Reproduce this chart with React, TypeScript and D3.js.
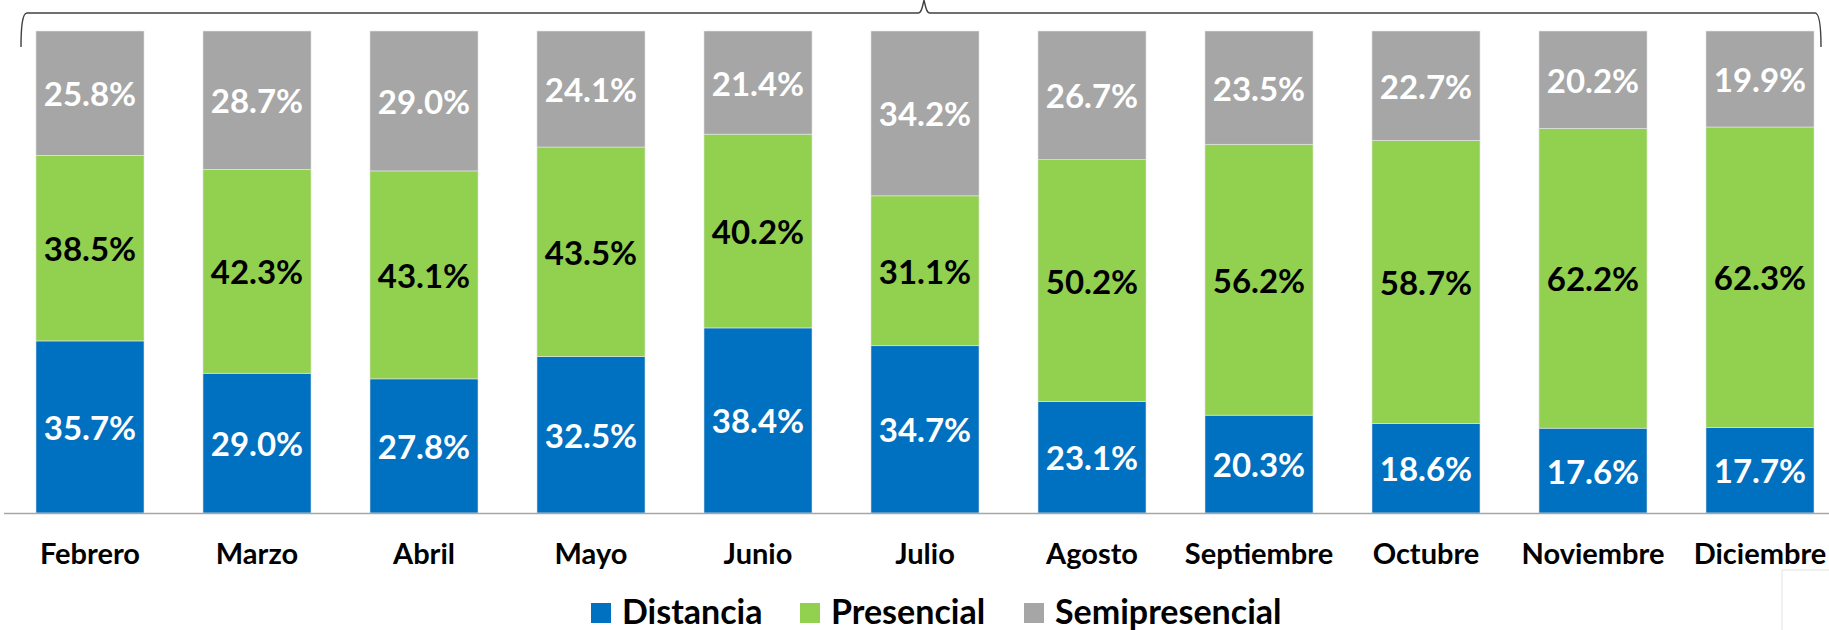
import React from "react";
import * as d3 from "d3";

const months = ["Febrero", "Marzo", "Abril", "Mayo", "Junio", "Julio", "Agosto", "Septiembre", "Octubre", "Noviembre", "Diciembre"];
const distancia = [35.7, 29.0, 27.8, 32.5, 38.4, 34.7, 23.1, 20.3, 18.6, 17.6, 17.7];
const presencial = [38.5, 42.3, 43.1, 43.5, 40.2, 31.1, 50.2, 56.2, 58.7, 62.2, 62.3];
const semipresencial = [25.8, 28.7, 29.0, 24.1, 21.4, 34.2, 26.7, 23.5, 22.7, 20.2, 19.9];
const seriesNames = ["Distancia", "Presencial", "Semipresencial"];
const seriesColors = ["#0070C0", "#92D050", "#A6A6A6"];
const labelColors = ["#FFFFFF", "#000000", "#FFFFFF"];

const W = 1829;
const H = 630;
const FONT = "Lato, 'Open Sans', sans-serif";

export default function App() {
  const rows = months.map((m, i) => ({
    month: m,
    Distancia: distancia[i],
    Presencial: presencial[i],
    Semipresencial: semipresencial[i],
  }));
  const stack = d3.stack<any>().keys(seriesNames).offset(d3.stackOffsetExpand);
  const series = stack(rows);

  const x = d3.scaleBand<string>().domain(months).range([6.5, 1843.5]).paddingInner(0.353).paddingOuter(0.1765);
  const y = d3.scaleLinear().domain([0, 1]).range([513, 31]);
  const bw = x.bandwidth();

  const legendX = [591, 800, 1024];

  const bracePath = "M21,47 C21,30 22,13 27,13 L918,13 C921,13 922,9 924,0 C926,9 927,13 930,13 L1815,13 C1820,13 1821,30 1821,47";

  return (
    <svg width={W} height={H} style={{ position: "absolute", left: 0, top: 0, background: "#fff" }}>
      <path d={bracePath} fill="none" stroke="#404040" strokeWidth={1.4} />
      {series.map((s, si) => (
        <g key={s.key}>
          {s.map((d, i) => {
            const mth = months[i];
            const x0 = x(mth)!;
            const y0 = y(d[1]);
            const y1 = y(d[0]);
            const vals = [distancia, presencial, semipresencial][si];
            return (
              <g key={mth}>
                <rect x={x0} y={y0} width={bw} height={y1 - y0} fill={seriesColors[si]} stroke="#e6e6e6" strokeWidth={0.6} />
                <text
                  x={x0 + bw / 2}
                  y={(y0 + y1) / 2}
                  textAnchor="middle"
                  dominantBaseline="central"
                  fontFamily={FONT}
                  fontWeight={700}
                  fontSize={33}
                  fill={labelColors[si]}
                >
                  {vals[i].toFixed(1) + "%"}
                </text>
              </g>
            );
          })}
        </g>
      ))}
      <line x1={4} x2={W} y1={513.5} y2={513.5} stroke="#A6A6A6" strokeWidth={1.5} />
      {months.map((m) => (
        <text key={m} x={x(m)! + bw / 2} y={564} textAnchor="middle" fontFamily={FONT} fontWeight={700} fontSize={29} fill="#000">
          {m}
        </text>
      ))}
      {seriesNames.map((n, i) => (
        <g key={n}>
          <rect x={legendX[i]} y={603} width={20} height={20} fill={seriesColors[i]} />
          <text x={legendX[i] + 31} y={624} fontFamily={FONT} fontWeight={700} fontSize={34} fill="#000">
            {n}
          </text>
        </g>
      ))}
      <rect x={1782} y={570} width={50} height={62} fill="none" stroke="#e4e4e4" strokeWidth={1} />
    </svg>
  );
}
